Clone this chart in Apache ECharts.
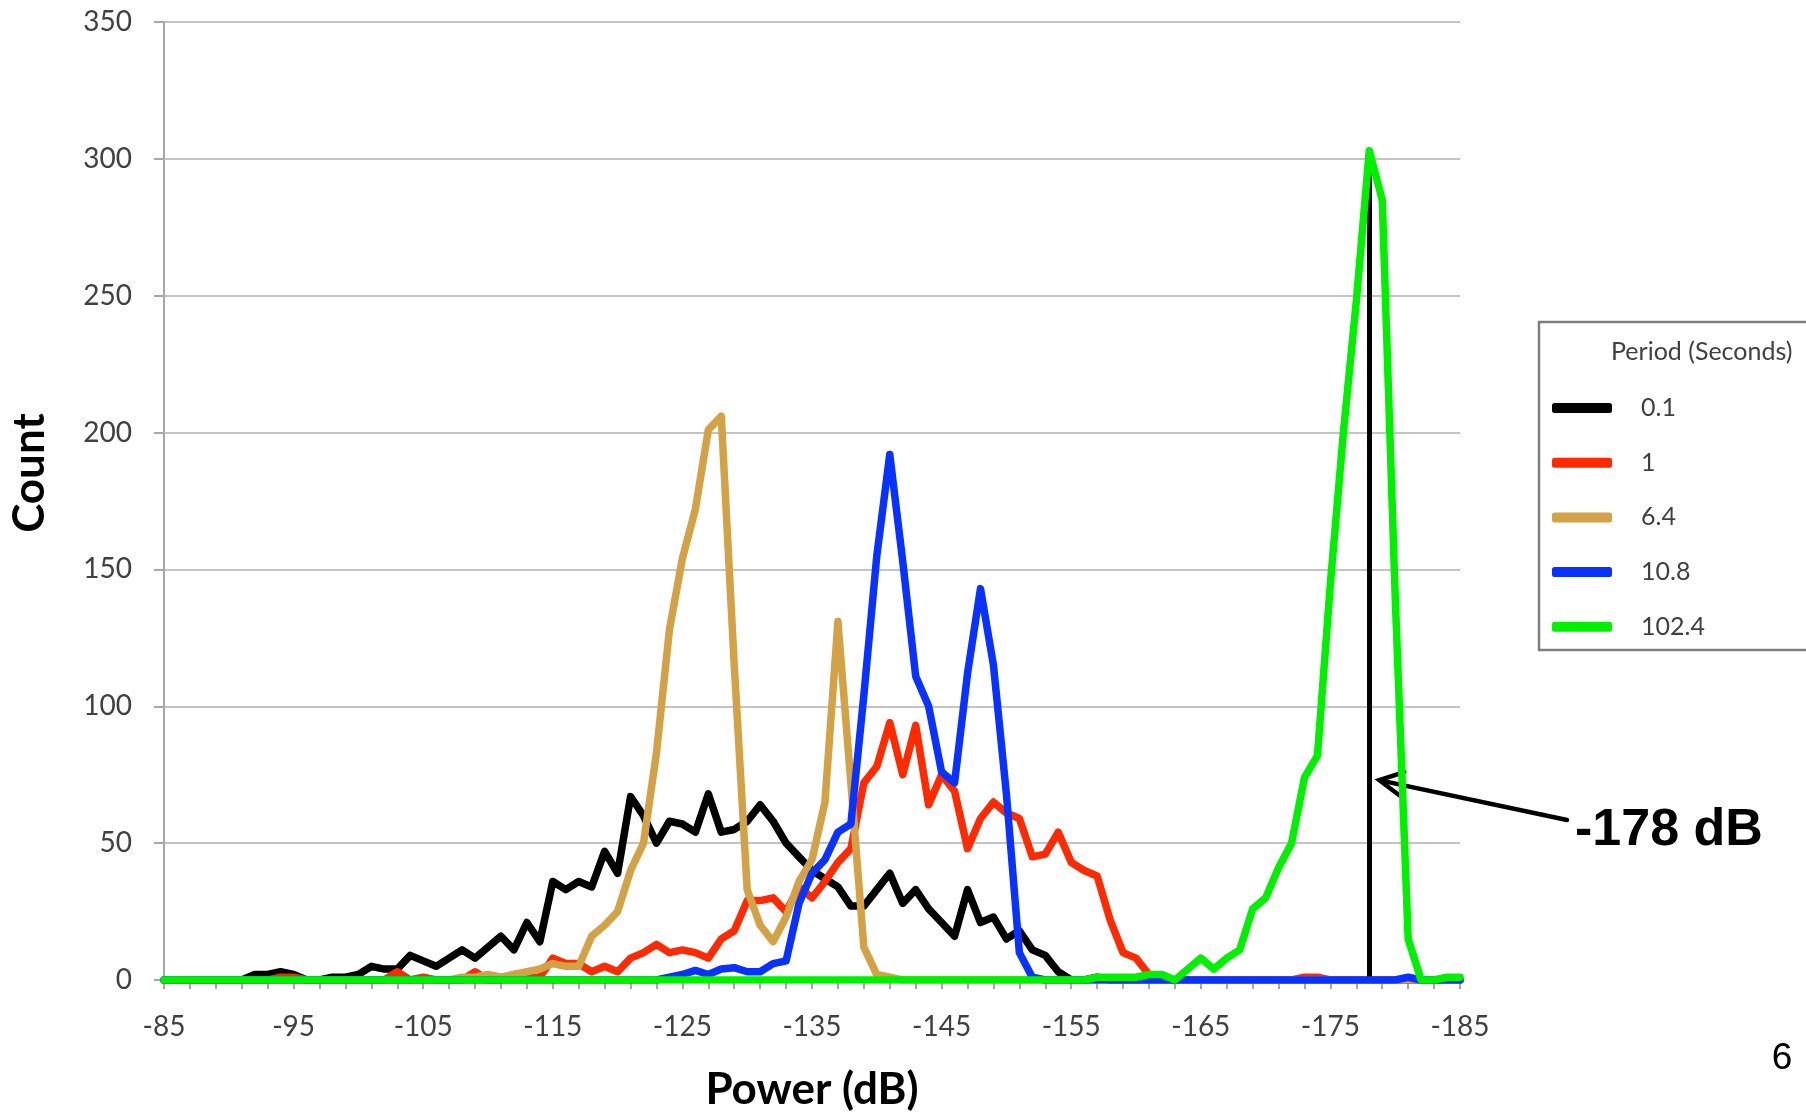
<!DOCTYPE html>
<html>
<head>
<meta charset="utf-8">
<script src="https://cdn.jsdelivr.net/npm/echarts@6/dist/echarts.min.js"></script>
<style>
  html, body { margin: 0; padding: 0; background: #fff; }
  #chart { width: 1806px; height: 1117px; }
</style>
</head>
<body>
<div id="chart"></div>
<script>
// x categories: power in dB, 1 dB steps from -85 to -185
const powerDb = [];
for (let d = -85; d >= -185; d--) powerDb.push(String(d));

const legendNames = ['0.1', '1', '6.4', '10.8', '102.4'];
const yTicks = [0, 50, 100, 150, 200, 250, 300, 350];

// Period 0.1 s
const period01 = [
  0,0,0,0,0,0,0,2,2,3, 2,0,0,1,1,2,5,4,4,9,
  7,5,8,11,8,12,16,11,21,14, 36,33,36,34,47,39,67,60,50,58,
  57,54,68,54,55,58,64,58,50,45, 40,37,34,27,27,33,39,28,33,26,
  21,16,33,21,23,15,18,11,9,3, 0,0,1,0,0,0,0,0,0,0,
  0,0,0,0,0,0,0,0,0,0, 0,0,0,0,0,0,0,0,0,0, 0
];
// Period 1 s
const period1 = [
  0,0,0,0,0,0,0,0,0,1, 1,0,0,0,0,0,0,0,3,0,
  1,0,0,0,3,0,0,2,1,1, 8,6,6,3,5,3,8,10,13,10,
  11,10,8,15,18,29,29,30,25,34, 30,36,43,48,72,78,94,75,93,64,
  75,69,48,59,65,61,59,45,46,54, 43,40,38,22,10,8,2,0,0,0,
  0,0,0,0,0,0,0,0,1,1, 0,0,0,0,0,0,0,0,0,0, 0
];
// Period 6.4 s
const period64 = [
  0,0,0,0,0,0,0,0,0,0, 0,0,0,0,0,0,0,0,0,0,
  0,0,0,1,1,2,1,2,3,4, 6,5,5,16,20,25,40,50,83,128,
  154,172,201,206,115,33,20,14,23,36, 44,65,131,72,12,2,1,0,0,0,
  0,0,0,0,0,0,0,0,0,0, 0,0,0,0,0,0,0,0,0,0,
  0,0,0,0,0,0,0,0,0,0, 0,0,0,0,0,0,0,0,0,0, 0
];
// Period 10.8 s
const period108 = [
  0,0,0,0,0,0,0,0,0,0, 0,0,0,0,0,0,0,0,0,0,
  0,0,0,0,0,0,0,0,0,0, 0,0,0,0,0,0,0,0,0,1,
  2,3.5,2,4,4.5,3,3,6,7,28, 39,44,54,57,104,155,192,153,111,100,
  76,72,112,143,115,68,10,1,0,0, 0,0,0,0,0,0,0,0,0,0,
  0,0,0,0,0,0,0,0,0,0, 0,0,0,0,0,0,1,0,0,0, 0
];
// Period 102.4 s
const period1024 = [
  0,0,0,0,0,0,0,0,0,0, 0,0,0,0,0,0,0,0,0,0,
  0,0,0,0,0,0,0,0,0,0, 0,0,0,0,0,0,0,0,0,0,
  0,0,0,0,0,0,0,0,0,0, 0,0,0,0,0,0,0,0,0,0,
  0,0,0,0,0,0,0,0,0,0, 0,0,1,1,1,1,2,2,0,4,
  8,4,8,11,26,30,41,50,74,82, 145,200,248,303,285,140,15,0,0,1, 1
];

const markerDb = '-178';
const markerTop = 302;
const arrowTipValue = 73;

const colors = ['#000000', '#ff2a00', '#d3a247', '#0a32ff', '#00f000'];
const seriesData = [period01, period1, period64, period108, period1024];

const chart = echarts.init(document.getElementById('chart'), null, { renderer: 'canvas' });

const series = seriesData.map((d, k) => ({
  name: legendNames[k],
  type: 'line',
  data: d,
  symbol: 'none',
  smooth: false,
  z: 2 + k,
  color: colors[k],
  lineStyle: { color: colors[k], width: 7.5, cap: 'round', join: 'round' },
  emphasis: { disabled: true }
}));
series[4].markLine = {
  silent: true,
  symbol: ['none', 'none'],
  label: { show: false },
  lineStyle: { color: '#000', width: 5, type: 'solid' },
  data: [[{ coord: [markerDb, 0] }, { coord: [markerDb, markerTop] }]]
};

const option = {
  animation: false,
  backgroundColor: '#ffffff',
  grid: { left: 164, right: 346, top: 22, bottom: 136, containLabel: false },
  xAxis: {
    type: 'category',
    data: powerDb,
    boundaryGap: false,
    axisLine: { show: true, lineStyle: { color: '#a8a8a8', width: 2 } },
    axisTick: { show: true, interval: 1, length: 9, lineStyle: { color: '#a8a8a8', width: 2 } },
    axisLabel: { interval: 9, margin: 33, fontSize: 28, color: '#404040', fontFamily: 'Lato' },
    splitLine: { show: false },
    name: 'Power (dB)',
    nameLocation: 'middle',
    nameGap: 88,
    nameTextStyle: { fontSize: 44, fontWeight: 'bold', color: '#000', fontFamily: 'Lato' }
  },
  yAxis: {
    type: 'value',
    min: yTicks[0],
    max: yTicks[yTicks.length - 1],
    interval: 50,
    axisLine: { show: true, lineStyle: { color: '#a8a8a8', width: 2 } },
    axisTick: { show: true, length: 10, lineStyle: { color: '#a8a8a8', width: 2 } },
    axisLabel: { margin: 32, fontSize: 28, color: '#404040', fontFamily: 'Lato' },
    splitLine: { show: true, lineStyle: { color: '#c4c4c4', width: 2 } }
  },
  legend: {
    data: legendNames,
    orient: 'vertical',
    left: 1547,
    top: 388,
    icon: 'roundRect',
    itemWidth: 60,
    itemHeight: 10,
    itemGap: 24.7,
    selectedMode: false,
    textStyle: { fontSize: 25, color: '#404040', fontFamily: 'Lato', lineHeight: 30, padding: [0, 0, 0, 24] }
  },
  series: series
};
chart.setOption(option);

const tip = chart.convertToPixel({ xAxisIndex: 0, yAxisIndex: 0 }, [markerDb, arrowTipValue]);
const tx = tip[0] + 10, ty = tip[1];

chart.setOption({
  graphic: [
    { type: 'rect', z: 1, shape: { x: 1539, y: 322, width: 320, height: 328 },
      style: { fill: '#ffffff', stroke: '#7f7f7f', lineWidth: 2.5 } },
    { type: 'text', z: 5, x: 1611, y: 352,
      style: { text: 'Period (Seconds)', fontSize: 25, fontFamily: 'Lato', fill: '#404040', verticalAlign: 'middle', align: 'left' } },
    { type: 'text', z: 5, x: 30, y: 473, rotation: Math.PI / 2,
      style: { text: 'Count', fontSize: 44, fontWeight: 'bold', fontFamily: 'Lato', fill: '#000', align: 'center', verticalAlign: 'middle' } },
    { type: 'text', z: 5, x: 1575, y: 831,
      style: { text: '-178 dB', fontSize: 52, fontWeight: 'bold', fontFamily: 'Liberation Sans', fill: '#000', align: 'left', verticalAlign: 'middle' } },
    { type: 'text', z: 5, x: 1782, y: 1059,
      style: { text: '6', fontSize: 37, fontFamily: 'Liberation Sans', fill: '#000', align: 'center', verticalAlign: 'middle' } },
    { type: 'polyline', z: 6, shape: { points: [[1567, 820], [tx + 2, ty + 0.4]] },
      style: { stroke: '#000', lineWidth: 4.5, lineCap: 'round', fill: null } },
    { type: 'polyline', z: 6, shape: { points: [[tx + 25, ty - 8], [tx, ty], [tx + 20, ty + 15]] },
      style: { stroke: '#000', lineWidth: 4.5, lineCap: 'round', lineJoin: 'miter', fill: null } }
  ]
});
</script>
</body>
</html>
